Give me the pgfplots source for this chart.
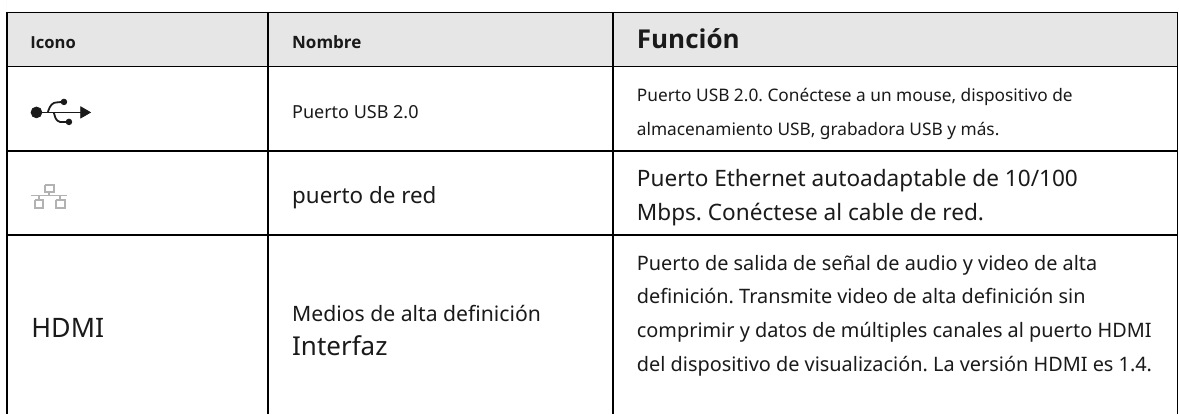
\documentclass[border=0pt]{standalone}
\usepackage{pgfplots}
\pgfplotsset{compat=1.18}
\usepackage{fontspec}
\setmainfont{Noto Sans}
\newfontfamily\hb{Open Sans}
\definecolor{hdr}{HTML}{E6E6E6}
\definecolor{ink}{HTML}{1A1A1A}
\newcommand{\fs}[1]{\fontsize{#1}{#1}\selectfont}
\frenchspacing
\begin{document}
\begin{tikzpicture}
\begin{axis}[
  width=589.5pt,height=207pt,scale only axis,
  xmin=0,xmax=1179,ymin=0,ymax=414,y dir=reverse,
  axis line style={draw=none},ticks=none,clip=false,
  every axis plot/.append style={line cap=butt},
]
\addplot[draw=white,fill=white,line width=0pt] coordinates {(0,0)(1179,0)(1179,414)(0,414)} \closedcycle;
\addplot[draw=none,fill=hdr] coordinates {(7,12)(1178,12)(1178,66)(7,66)} \closedcycle;
% grid
\addplot[black,line width=0.9pt,forget plot] coordinates {(7,12)(7,414)};
\addplot[black,line width=0.9pt,forget plot] coordinates {(268,12)(268,414)};
\addplot[black,line width=0.9pt,forget plot] coordinates {(613.5,12)(613.5,414)};
\addplot[black,line width=0.6pt,forget plot] coordinates {(1178,12)(1178,414)};
\addplot[black,line width=0.9pt,forget plot] coordinates {(6,12.5)(1179,12.5)};
\addplot[black,line width=0.9pt,forget plot] coordinates {(6,66.5)(1179,66.5)};
\addplot[black,line width=0.9pt,forget plot] coordinates {(6,151.5)(1179,151.5)};
\addplot[black,line width=0.9pt,forget plot] coordinates {(6,235.5)(1179,235.5)};
% USB icon
\addplot[ink,line width=0.8pt,forget plot] coordinates {(36,112.5)(84,112.5)};
\addplot[ink,only marks,mark=*,mark size=2.7pt,forget plot] coordinates {(36.5,112.5)};
\addplot[ink,only marks,mark=*,mark size=1.4pt,forget plot] coordinates {(64,102)(69,122)};
\addplot[ink,only marks,mark=triangle*,mark size=3.2pt,mark options={rotate=-90},forget plot] coordinates {(84,112.5)};
\addplot[ink,line width=0.9pt,smooth,forget plot] coordinates {(48,112)(50,107)(54,103)(64,102)};
\addplot[ink,line width=0.9pt,smooth,forget plot] coordinates {(54,113)(56,119)(60,122)(69,122)};
% network icon
\addplot[gray!60,line width=0.6pt,forget plot] coordinates {(31,196)(67,196)};
\addplot[gray!60,line width=0.6pt,forget plot] coordinates {(49,192)(49,196)};
\addplot[gray!60,line width=0.6pt,forget plot] coordinates {(39,196)(39,199)};
\addplot[gray!60,line width=0.6pt,forget plot] coordinates {(60,196)(60,199)};
\addplot[gray!60,line width=0.7pt,forget plot] coordinates {(45,185)(54,185)(54,192)(45,192)(45,185)};
\addplot[gray!60,line width=0.7pt,forget plot] coordinates {(35,200)(43,200)(43,208)(35,208)(35,200)};
\addplot[gray!60,line width=0.7pt,forget plot] coordinates {(56,200)(65,200)(65,208)(56,208)(56,200)};
% text
\node[anchor=base west,inner sep=0,text=ink] at (axis cs:30,49) {\fs{8.3}\hb\bfseries Icono};
\node[anchor=base west,inner sep=0,text=ink] at (axis cs:292,49) {\fs{8.5}\hb\bfseries Nombre};
\node[anchor=base west,inner sep=0,text=ink] at (axis cs:637,49) {\fs{13}\hb\bfseries Función};
\node[anchor=base west,inner sep=0,text=ink] at (axis cs:292,119) {\fs{9}Puerto USB 2.0};
\node[anchor=base west,inner sep=0,text=ink] at (axis cs:637,102) {\fs{8.65}Puerto USB 2.0. Conéctese a un mouse, dispositivo de};
\node[anchor=base west,inner sep=0,text=ink] at (axis cs:637,136) {\fs{8.65}almacenamiento USB, grabadora USB y más.};
\node[anchor=base west,inner sep=0,text=ink] at (axis cs:292,204) {\fs{11.2}puerto de red};
\node[anchor=base west,inner sep=0,text=ink] at (axis cs:637,187) {\fs{11.3}Puerto Ethernet autoadaptable de 10/100};
\node[anchor=base west,inner sep=0,text=ink] at (axis cs:637,221) {\fs{11.3}Mbps. Conéctese al cable de red.};
\node[anchor=base west,inner sep=0,text=ink] at (axis cs:31,338) {\fs{13.4}HDMI};
\node[anchor=base west,inner sep=0,text=ink] at (axis cs:292,322) {\fs{10.6}Medios de alta definición};
\node[anchor=base west,inner sep=0,text=ink] at (axis cs:292,356) {\fs{13}Interfaz};
\node[anchor=base west,inner sep=0,text=ink] at (axis cs:637,271) {\fs{9.95}Puerto de salida de señal de audio y video de alta};
\node[anchor=base west,inner sep=0,text=ink] at (axis cs:637,304) {\fs{9.95}definición. Transmite video de alta definición sin};
\node[anchor=base west,inner sep=0,text=ink] at (axis cs:637,338) {\fs{9.95}comprimir y datos de múltiples canales al puerto HDMI};
\node[anchor=base west,inner sep=0,text=ink] at (axis cs:637,372) {\fs{9.95}del dispositivo de visualización. La versión HDMI es 1.4.};
\end{axis}
\end{tikzpicture}
\end{document}
